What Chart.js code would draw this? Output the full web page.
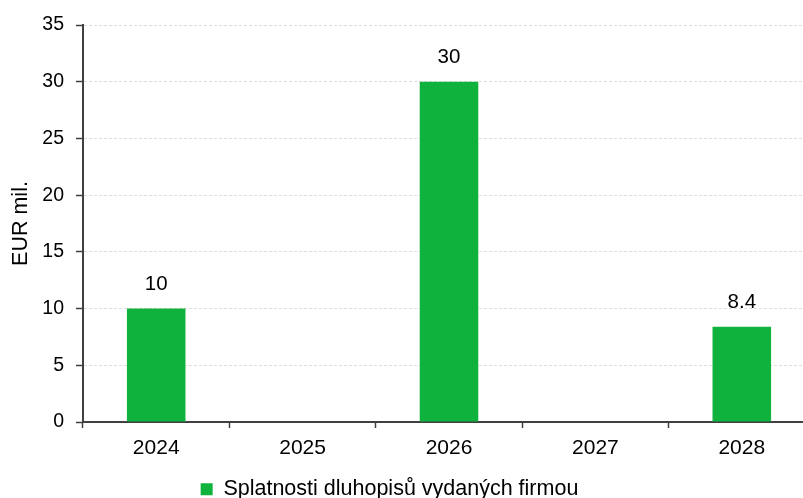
<!DOCTYPE html>
<html>
<head>
<meta charset="utf-8">
<script src="https://cdn.jsdelivr.net/npm/chart.js@4"></script>
<style>
  html, body { margin: 0; padding: 0; background: #ffffff; overflow: hidden; }
  #wrap { position: absolute; left: 0; top: 0; width: 815px; height: 510px; }
</style>
</head>
<body>
<div id="wrap"><canvas id="c" width="815" height="510"></canvas></div>
<script>
// Maturities of corporate bonds, EUR millions
const years = ['2024', '2025', '2026', '2027', '2028'];
const maturities = [10, null, 30, null, 8.4];
const seriesName = 'Splatnosti dluhopisů vydaných firmou';
const yTicks = [0, 5, 10, 15, 20, 25, 30, 35];

const FONT = "'Liberation Sans', Arial, sans-serif";
const GREEN = '#10b23e';
const AXIS = '#404040';

// Value labels above each bar
const valueLabels = {
  id: 'valueLabels',
  afterDatasetsDraw(chart) {
    const ctx = chart.ctx;
    const meta = chart.getDatasetMeta(0);
    ctx.save();
    ctx.font = '20.5px ' + FONT;
    ctx.fillStyle = '#000000';
    ctx.textAlign = 'center';
    ctx.textBaseline = 'middle';
    meta.data.forEach((bar, i) => {
      const v = maturities[i];
      if (v === null || v === undefined) return;
      ctx.fillText(String(v), bar.x, bar.y - 24);
    });
    ctx.restore();
  }
};

// Nudge the legend a little to the left of the canvas centre
const legendShift = {
  id: 'legendShift',
  afterLayout(chart) {
    if (chart.legend) {
      chart.legend.left -= 18;
      chart.legend.right -= 18;
    }
  }
};

new Chart(document.getElementById('c'), {
  type: 'bar',
  data: {
    labels: years,
    datasets: [{
      label: seriesName,
      data: maturities,
      backgroundColor: GREEN,
      borderWidth: 0,
      barPercentage: 0.8,
      categoryPercentage: 0.5
    }]
  },
  options: {
    responsive: false,
    animation: false,
    devicePixelRatio: 1,
    layout: { padding: { top: 25, right: 0, left: 0, bottom: 0 } },
    plugins: {
      tooltip: { enabled: false },
      legend: {
        position: 'bottom',
        labels: {
          font: { family: FONT, size: 21.5 },
          color: '#000000',
          boxWidth: 12,
          boxHeight: 12,
          padding: 12.5
        }
      }
    },
    scales: {
      x: {
        offset: true,
        afterFit(scale) { scale.height = 44; },
        grid: {
          offset: true,
          drawOnChartArea: false,
          drawTicks: true,
          tickLength: 6,
          tickColor: AXIS,
          tickWidth: 1.5
        },
        border: { display: true, color: AXIS, width: 2 },
        ticks: {
          font: { family: FONT, size: 21 },
          color: '#000000',
          padding: 8
        }
      },
      y: {
        min: 0,
        max: 35,
        afterFit(scale) { scale.width = 83; },
        afterBuildTicks(scale) { scale.ticks = yTicks.map(v => ({ value: v })); },
        grid: {
          color: '#dddddd',
          lineWidth: 1,
          drawTicks: true,
          tickLength: 7,
          tickColor: AXIS,
          tickWidth: 1.5
        },
        border: { display: true, color: AXIS, width: 2, dash: [3, 2] },
        ticks: {
          font: { family: FONT, size: 19.5 },
          color: '#000000',
          padding: 12
        },
        title: {
          display: true,
          text: 'EUR mil.',
          font: { family: FONT, size: 21.5 },
          color: '#000000',
          padding: { top: 8, bottom: 0 }
        }
      }
    }
  },
  plugins: [valueLabels, legendShift]
});
</script>
</body>
</html>
